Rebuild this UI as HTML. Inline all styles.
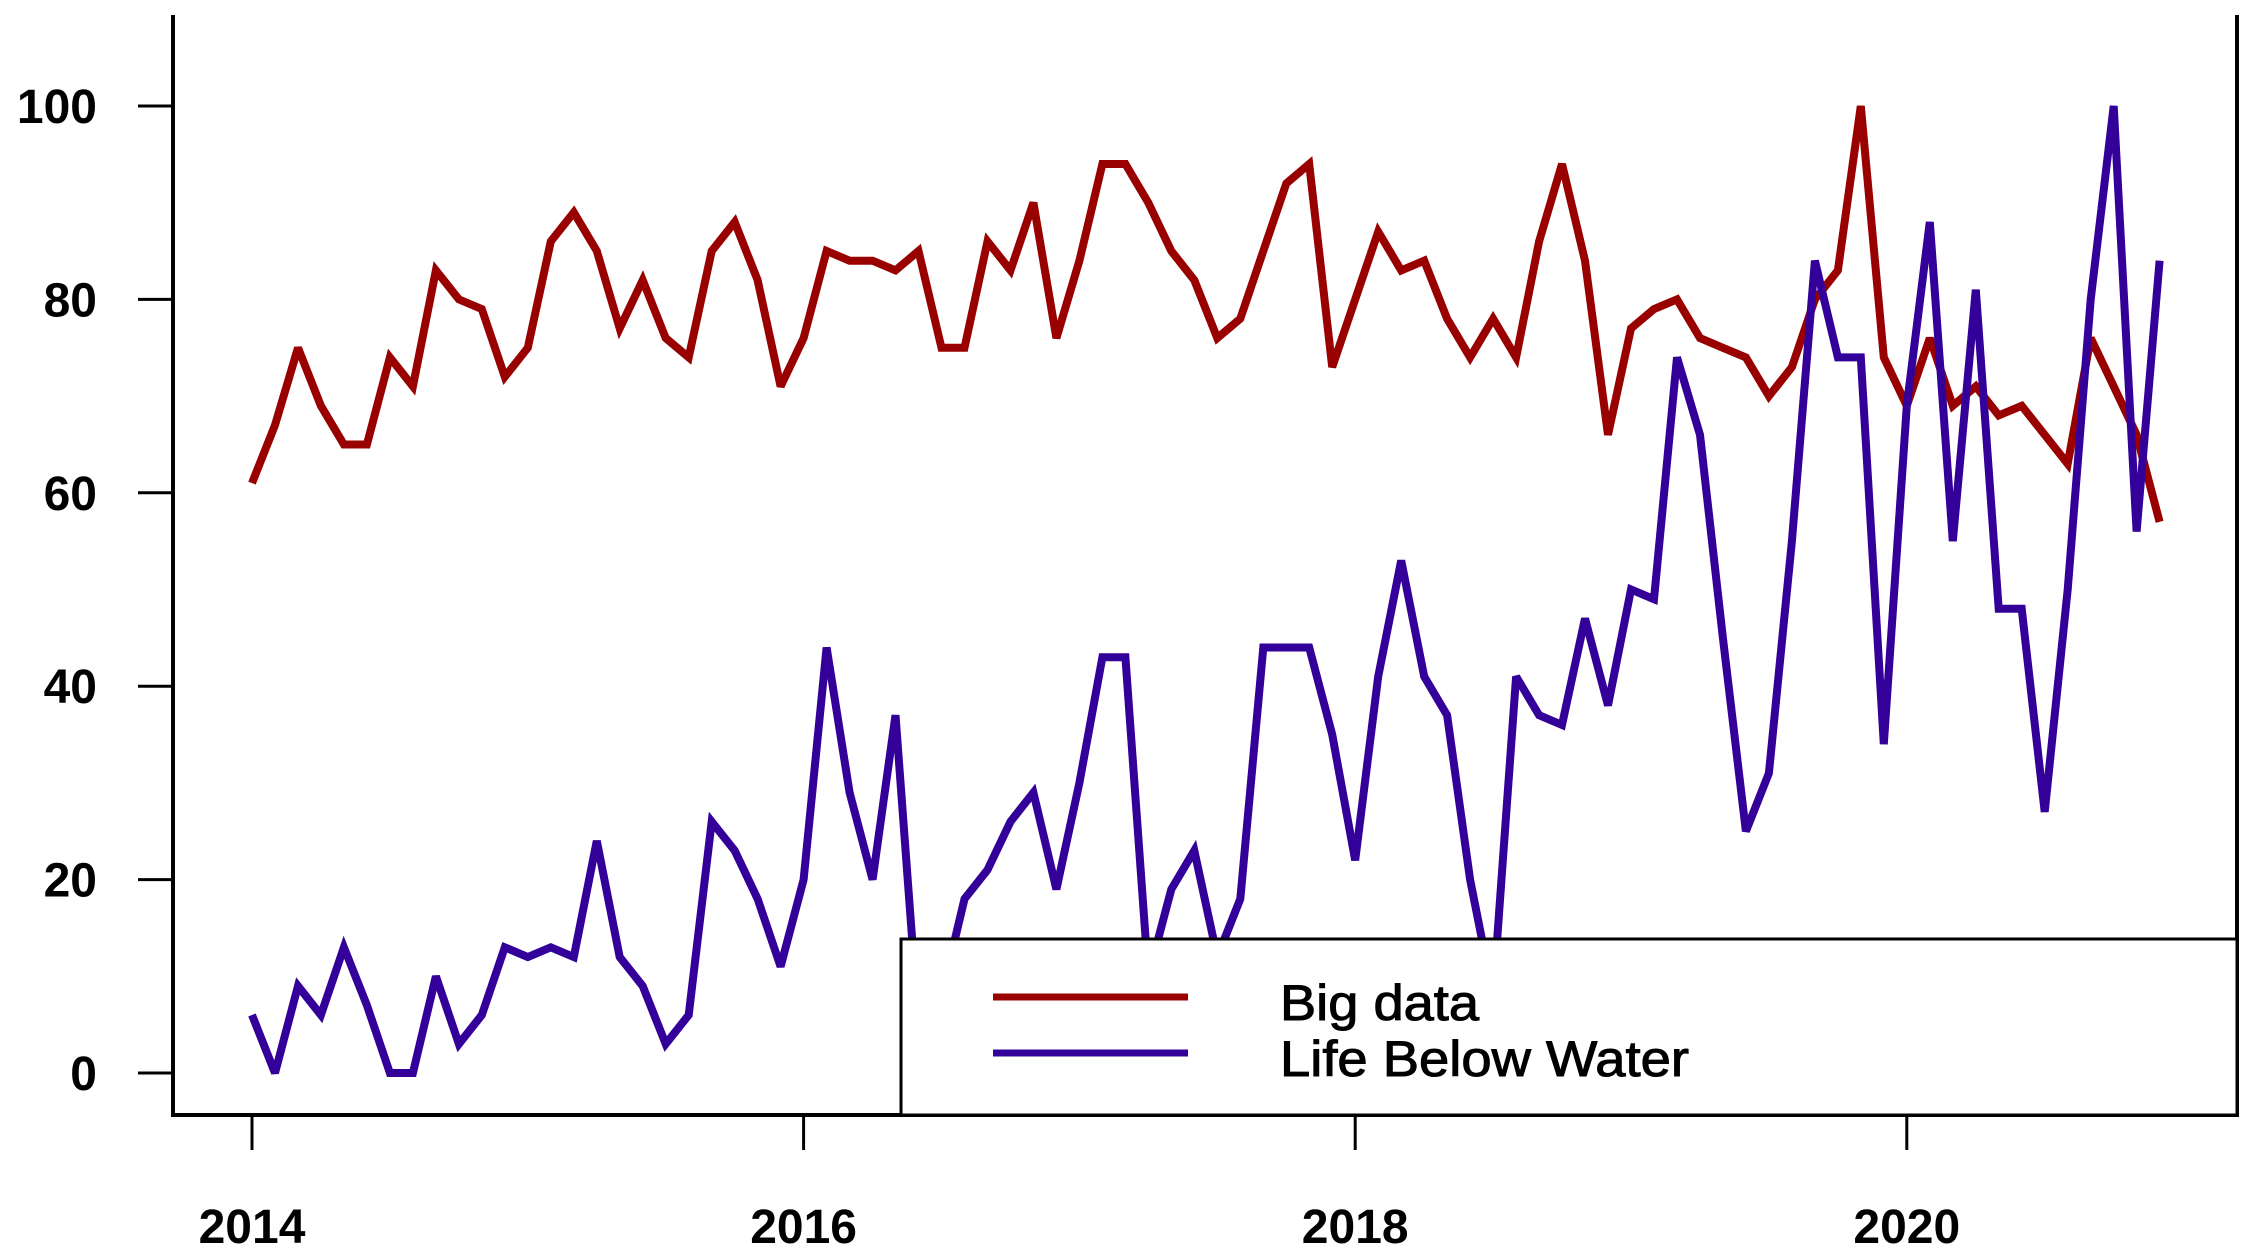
<!DOCTYPE html>
<html><head><meta charset="utf-8"><style>
html,body{margin:0;padding:0;background:#fff;}
svg{display:block;font-family:"Liberation Sans",Arial,sans-serif;}
</style></head><body>
<svg id="chart" width="2252" height="1257" viewBox="0 0 2252 1257" xmlns="http://www.w3.org/2000/svg">
<rect width="2252" height="1257" fill="#fff"/>
<g id="plot"></g>
</svg>
<script>
const startYear = 2014;
const bigData = [61,67,75,69,65,65,74,71,83,80,79,72,
75,86,89,85,77,82,76,74,85,88,82,71,
76,85,84,84,83,85,75,75,86,83,90,76,
84,94,94,90,85,82,76,78,85,92,94,73,
80,87,83,84,78,74,78,74,86,94,84,66,
77,79,80,76,75,74,70,73,80,83,100,74,
69,76,69,71,68,69,66,63,76,71,66,57];
const lifeBelowWater = [6,0,9,6,13,7,0,0,10,3,6,13,
12,13,12,24,12,9,3,6,26,23,18,11,
20,44,29,20,37,5,8,18,21,26,29,19,
30,43,43,10,19,23,12,18,44,44,44,35,
22,41,53,41,37,20,8,41,37,36,47,38,
50,49,74,66,45,25,31,55,84,74,74,34,
69,88,55,81,48,48,27,50,80,100,56,84];
const yTicks = [0,20,40,60,80,100];
const xTicks = [2014,2016,2018,2020];
const seriesNames = ["Big data","Life Below Water"];

const NS = "http://www.w3.org/2000/svg";
const g = document.getElementById('plot');
const xScale = t => 252 + (t - startYear) * 275.8;
const yScale = v => 1073 - v * 9.67;
function mk(tag, attrs, parent){ const e=document.createElementNS(NS,tag); for(const k in attrs) e.setAttribute(k,attrs[k]); (parent||g).appendChild(e); return e; }

function drawSeries(vals, color, name){
  const pts = vals.map((v,i)=> xScale(startYear + i/12).toFixed(1)+','+yScale(v).toFixed(1)).join(' ');
  const pl = mk('polyline',{points:pts,fill:'none',stroke:color,'stroke-width':8,'stroke-linejoin':'miter','stroke-miterlimit':3});
  
  
}
drawSeries(bigData,'#990000','big-data-line');
drawSeries(lifeBelowWater,'#330099','life-below-water-line');

const ax = mk('path',{d:'M173,15 V1115 H2237 V15',fill:'none',stroke:'#000','stroke-width':4});



yTicks.forEach(v=>{
  const y = yScale(v);
  const t = mk('line',{x1:138,x2:173,y1:y,y2:y,stroke:'#000','stroke-width':3});
  
  
  const l = mk('text',{x:97,y:y+17,'text-anchor':'end','font-size':48,'font-weight':'bold',fill:'#000'});
  l.textContent = v;
  
  
});
xTicks.forEach(yr=>{
  const x = xScale(yr);
  const t = mk('line',{x1:x,x2:x,y1:1115,y2:1150,stroke:'#000','stroke-width':3});
  
  
  const l = mk('text',{x:x,y:1243,'text-anchor':'middle','font-size':48,'font-weight':'bold',fill:'#000'});
  l.textContent = yr;
  
  
});

const lg = mk('g',{});


mk('rect',{x:901,y:939,width:1336,height:176,fill:'#fff',stroke:'#000','stroke-width':3},lg);
const legColors = ['#990000','#330099'];
const legY = [997,1053];
const legLen = [199,409];
seriesNames.forEach((n,i)=>{
  const e = mk('g',{},lg);
  
  
  mk('line',{x1:993,x2:1188,y1:legY[i],y2:legY[i],stroke:legColors[i],'stroke-width':7},e);
  const t = mk('text',{x:1280,y:legY[i]+23,'font-size':50,fill:'#000',stroke:'#000','stroke-width':1,textLength:legLen[i],lengthAdjust:'spacingAndGlyphs'},e);
  t.textContent = n;
});
</script>
</body></html>
